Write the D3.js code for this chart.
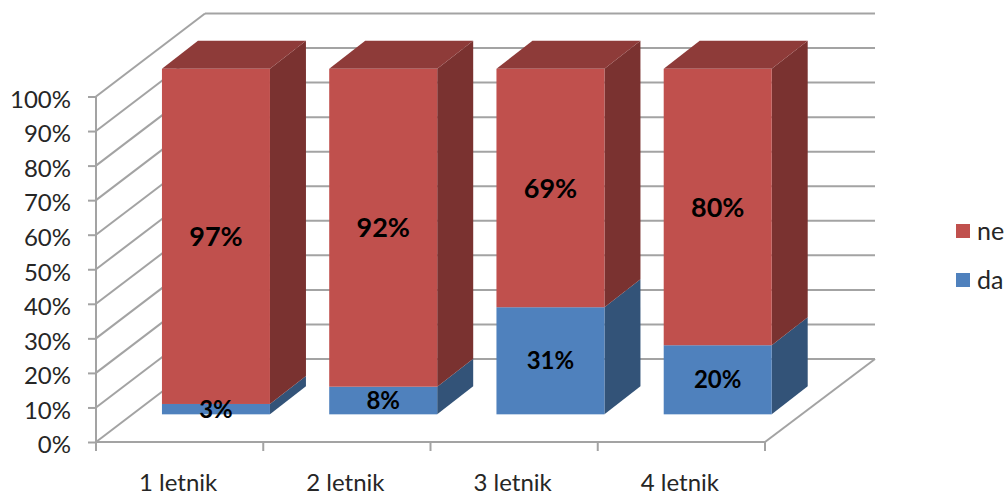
<!DOCTYPE html>
<html>
<head>
<meta charset="utf-8">
<script src="https://cdn.jsdelivr.net/npm/d3@7/dist/d3.min.js"></script>
<style>
html,body{margin:0;padding:0;background:#fff;overflow:hidden}
svg{display:block}
text{font-family:Lato,"Open Sans",sans-serif}
</style>
</head>
<body>
<div id="chart"></div>
<script>
// Survey shares per study year
const categories = ["1 letnik", "2 letnik", "3 letnik", "4 letnik"];
const daValues = [3, 8, 31, 20];
const neValues = [97, 92, 69, 80];
const yTicks = [0, 10, 20, 30, 40, 50, 60, 70, 80, 90, 100];
const seriesNames = ["ne", "da"];

const width = 1006, height = 496;
const plotLeft = 96, plotRight = 765, floorY = 442, ceilY = 96.5;
const wallDx = 109, wallDy = -83;      // depth of the 3D box
const barDepth = 1 / 3;                // columns stand a third of the way into the box
const barDx = 36, barDy = -28;         // depth of each column

const palette = {
  ne: {front: "#C0504D", side: "#7A3230", top: "#8E3B39"},
  da: {front: "#4F81BD", side: "#335378", top: "#3F6797"}
};
const gridColor = "#A3A3A3";

const x = d3.scaleBand().domain(categories).range([plotLeft, plotRight]);
const y = d3.scaleLinear().domain([0, 100]).range([floorY, ceilY]);
const barWidth = 108;

const svg = d3.select("#chart").append("svg").attr("width", width).attr("height", height);

// Back wall gridlines and side wall diagonals
const grid = svg.append("g").attr("stroke", gridColor).attr("stroke-width", 2).attr("fill", "none");
grid.selectAll("line.back").data(yTicks).join("line").attr("class", "back")
  .attr("x1", plotLeft + wallDx).attr("x2", plotRight + wallDx + 1)
  .attr("y1", d => y(d) + wallDy).attr("y2", d => y(d) + wallDy);
grid.selectAll("line.side").data(yTicks).join("line").attr("class", "side")
  .attr("x1", plotLeft).attr("x2", plotLeft + wallDx)
  .attr("y1", d => y(d)).attr("y2", d => y(d) + wallDy);
grid.append("line").attr("x1", plotRight).attr("y1", floorY)
  .attr("x2", plotRight + wallDx + 1).attr("y2", floorY + wallDy);

// Axes
const yAxis = d3.axisLeft(y).tickValues(yTicks).tickSize(8).tickPadding(17).tickFormat(d => d + "%");
const xAxis = d3.axisBottom(x).tickSize(0).tickPadding(31.5);

function styleAxis(g) {
  g.selectAll(".domain").attr("stroke", gridColor).attr("stroke-width", 2);
  g.selectAll(".tick line").attr("stroke", gridColor).attr("stroke-width", 2);
  g.selectAll("text").attr("fill", "#262626").attr("font-size", 24)
    .style("font-family", "Lato,'Open Sans',sans-serif");
}

const gy = svg.append("g").attr("transform", `translate(${plotLeft},0)`).call(yAxis).call(styleAxis);
gy.select(".domain").attr("d", `M0,${y(100)}V${y(0)}`);
gy.selectAll(".tick text").attr("dy", "0.45em");

const gx = svg.append("g").attr("transform", `translate(0,${floorY})`).call(xAxis).call(styleAxis);
gx.select(".domain").attr("d", `M${plotLeft},0H${plotRight}`);
gx.selectAll(".tick text").attr("dx", -1.5);
gx.selectAll("line.cat").data(d3.range(categories.length + 1)).join("line").attr("class", "cat")
  .attr("x1", i => plotLeft + i * x.bandwidth()).attr("x2", i => plotLeft + i * x.bandwidth())
  .attr("y1", 0).attr("y2", 9).attr("stroke", gridColor).attr("stroke-width", 2);

// Stacked columns, front plane shifted into the box
const stacked = categories.map((c, i) => ({c, da: daValues[i], ne: neValues[i]}));
const stack = d3.stack().keys(["da", "ne"])(stacked);
const scaleH = y(0) - y(100);
const frontY = v => y(0) + wallDy * barDepth - v / 100 * scaleH;
const frontX = c => x(c) + wallDx * barDepth + (x.bandwidth() - barWidth) / 2;
const poly = pts => pts.map(p => p.join(",")).join(" ");

const bars = svg.append("g");
stack.forEach(layer => {
  const col = palette[layer.key];
  layer.forEach(seg => {
    const c = seg.data.c;
    const x0 = frontX(c), x1 = x0 + barWidth;
    const yb = frontY(seg[0]), yt = frontY(seg[1]);
    bars.append("polygon").attr("fill", col.side)
      .attr("points", poly([[x1, yb], [x1 + barDx, yb + barDy], [x1 + barDx, yt + barDy], [x1, yt]]));
    if (seg[1] >= 100) {
      bars.append("polygon").attr("fill", col.top)
        .attr("points", poly([[x0, yt], [x0 + barDx, yt + barDy], [x1 + barDx, yt + barDy], [x1, yt]]));
    }
    bars.append("rect").attr("fill", col.front)
      .attr("x", x0).attr("width", barWidth).attr("y", yt).attr("height", yb - yt);
  });
});

// Value labels centred on each segment
const labels = svg.append("g").attr("text-anchor", "middle").attr("fill", "#000").attr("font-weight", 700);
stack.forEach(layer => {
  layer.forEach(seg => {
    const cx = frontX(seg.data.c) + barWidth / 2;
    const cy = (frontY(seg[0]) + frontY(seg[1])) / 2;
    labels.append("text").attr("x", cx).attr("y", cy).attr("dy", "0.36em")
      .attr("font-size", layer.key === "ne" ? 27 : 24)
      .text(seg[1] - seg[0] + "%");
  });
});

// Legend
const legend = svg.append("g");
seriesNames.forEach((name, i) => {
  const row = legend.append("g").attr("transform", `translate(956,${224 + i * 49})`);
  row.append("rect").attr("width", 14).attr("height", 14).attr("fill", palette[name].front);
  row.append("text").attr("x", 21).attr("y", 16).attr("font-size", 25).attr("fill", "#262626").text(name);
});
</script>
</body>
</html>
